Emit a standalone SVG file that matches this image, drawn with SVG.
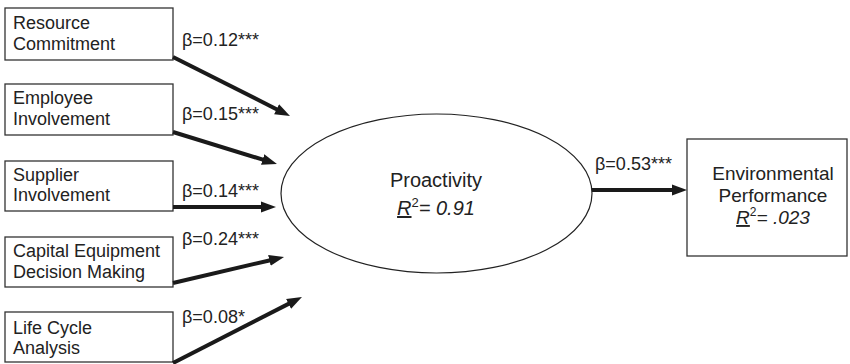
<svg xmlns="http://www.w3.org/2000/svg" width="850" height="364" viewBox="0 0 850 364">
<defs>
<marker id="ah" markerUnits="userSpaceOnUse" markerWidth="16" markerHeight="12" refX="1" refY="6" orient="auto" viewBox="0 0 16 12">
<path d="M0,0.5 L15,6 L0,11.5 Z" fill="#1a1a1a"/>
</marker>
<style>
.box{fill:#fff;stroke:#333;stroke-width:1.3}
.t{font-family:"Liberation Sans",Arial,sans-serif;font-size:18px;fill:#222}
.c{text-anchor:middle}
.conn line{stroke:#1a1a1a;stroke-width:4;marker-end:url(#ah)}
.ell{fill:#fff;stroke:#222;stroke-width:1.2}
</style>
</defs>
<rect width="850" height="364" fill="#fff"/>
<g id="resource">
<rect class="box" x="5" y="8" width="168" height="52"/>
<text class="t" x="13" y="29">Resource</text>
<text class="t" x="13" y="50">Commitment</text>
</g>
<g id="employee">
<rect class="box" x="5" y="84" width="168" height="51"/>
<text class="t" x="13" y="104">Employee</text>
<text class="t" x="13" y="125">Involvement</text>
</g>
<g id="supplier">
<rect class="box" x="5" y="161" width="168" height="50"/>
<text class="t" x="13" y="181">Supplier</text>
<text class="t" x="13" y="201">Involvement</text>
</g>
<g id="capital">
<rect class="box" x="5" y="237" width="168" height="50"/>
<text class="t" x="13" y="257">Capital Equipment</text>
<text class="t" x="13" y="278">Decision Making</text>
</g>
<g id="lifecycle">
<rect class="box" x="5" y="312" width="168" height="50"/>
<text class="t" x="13" y="334">Life Cycle</text>
<text class="t" x="13" y="354">Analysis</text>
</g>
<g id="proactivity">
<ellipse class="ell" cx="436.5" cy="193.5" rx="155.5" ry="79.5"/>
<text class="t c" x="436" y="187" style="font-size:20px">Proactivity</text>
<text class="t c" x="436" y="215" style="font-size:20px"><tspan font-style="italic" text-decoration="underline">R</tspan><tspan dy="-8" font-size="13">2</tspan><tspan dy="8" font-style="italic">= 0.91</tspan></text>
</g>
<g id="envperf">
<rect class="box" x="687" y="139" width="160" height="117"/>
<text class="t c" x="773" y="180" style="font-size:19px">Environmental</text>
<text class="t c" x="773" y="202" style="font-size:19px">Performance</text>
<text class="t c" x="773" y="224" style="font-size:19px"><tspan font-style="italic" text-decoration="underline">R</tspan><tspan dy="-8" font-size="12">2</tspan><tspan dy="8" font-style="italic">= .023</tspan></text>
</g>
<g id="connectors" class="conn">
<line x1="173" y1="57" x2="277.5" y2="109.7"/>
<line x1="173" y1="132" x2="263.6" y2="159.9"/>
<line x1="173" y1="207" x2="262" y2="207"/>
<line x1="173" y1="283" x2="270.4" y2="260.2"/>
<line x1="173" y1="363" x2="289.5" y2="303.4"/>
<line x1="592" y1="190" x2="673" y2="190"/>
</g>
<g id="labels">
<text class="t" x="182" y="46">β=0.12***</text>
<text class="t" x="182" y="120">β=0.15***</text>
<text class="t" x="182" y="197">β=0.14***</text>
<text class="t" x="182" y="245">β=0.24***</text>
<text class="t" x="182" y="323">β=0.08*</text>
<text class="t" x="595" y="170">β=0.53***</text>
</g>
</svg>
